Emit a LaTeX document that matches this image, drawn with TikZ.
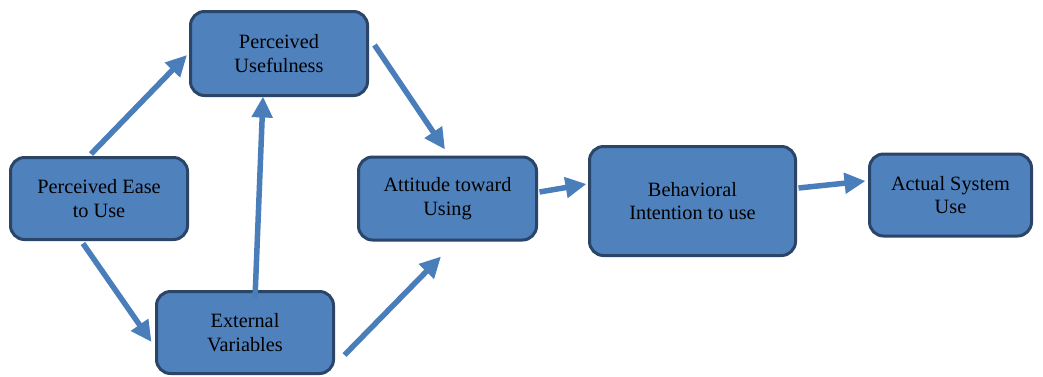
\documentclass[tikz,border=0pt]{standalone}
\usepackage{fontspec}
\setmainfont{Liberation Serif}
\usetikzlibrary{arrows.meta,calc}
\definecolor{boxfill}{HTML}{4F81BD}
\definecolor{boxline}{HTML}{2A4567}
\definecolor{arrowc}{HTML}{4A7EBB}
\begin{document}
\begin{tikzpicture}[x=1pt,y=-1pt,
  box/.style={draw=boxline, line width=3pt, fill=boxfill, rounded corners=14pt,
    align=center, inner sep=0pt, font=\fontsize{20.3}{23.5}\selectfont, text=black},
  conn/.style={draw=arrowc, line width=5.5pt, -{Triangle[length=21pt,width=20pt]}}]
\useasboundingbox (0,0) rectangle (1043,376);
\node[box, minimum width=177pt, minimum height=82pt] (peu) at (99,198.5) {Perceived Ease\\to Use};
\node[box, minimum width=177pt, minimum height=84pt] (pu) at (279,53.5) {Perceived\\Usefulness};
\node[box, minimum width=177pt, minimum height=82pt] (ev) at (245,332.5) {External\\Variables};
\node[box, minimum width=178pt, minimum height=83pt] (att) at (447.5,198.5) {Attitude toward\\Using};
\node[box, minimum width=206pt, minimum height=109pt] (bi) at (692.5,201) {Behavioral\\Intention to use};
\node[box, minimum width=162pt, minimum height=82pt] (asu) at (950.5,195) {Actual System\\Use};
\draw[conn] ($(peu.north)+(-8,-2)$) -- ($(pu.west)+(-2,1.5)$);
\draw[conn] ($(peu.south)+(-16,2.5)$) -- ($(ev.west)+(-3.5,9.5)$);
\draw[conn] ($(ev.north)+(10,8.5)$) -- ($(pu.south)+(-16,-0.5)$);
\draw[conn] ($(pu.east)+(5.5,-8.5)$) -- ($(att.north)+(-2.5,-6)$);
\draw[conn] ($(ev.east)+(9.5,22.5)$) -- ($(att.south)+(-6.5,15)$);
\draw[conn] ($(att.east)+(1.5,-6.5)$) -- ($(bi.west)+(-1.5,-17)$);
\draw[conn] ($(bi.east)+(1.5,-13)$) -- ($(asu.west)+(-2.5,-14)$);
\end{tikzpicture}
\end{document}
